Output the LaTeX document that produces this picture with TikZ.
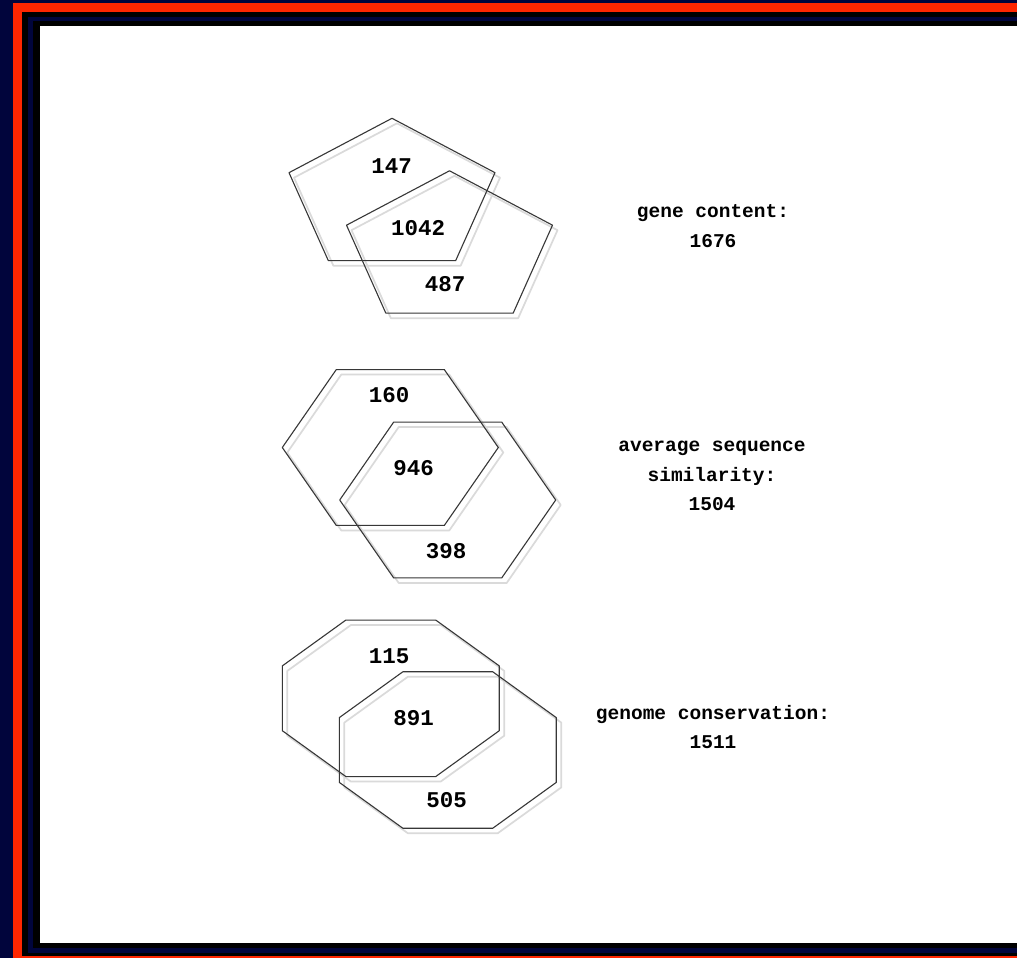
\documentclass[tikz,border=0pt]{standalone}
\usepackage{fontspec}
\usepackage{tikz}
\usetikzlibrary{calc,positioning}
\newfontfamily\typefont{Liberation Mono}
\definecolor{slatenavy}{RGB}{1,5,60}
\definecolor{framered}{RGB}{255,38,0}
\definecolor{outlinegray}{RGB}{55,55,55}
\definecolor{shadowgray}{RGB}{218,218,218}

% one set of a two-set diagram: a polygon stretched onto an ellipse
% #1 centre, #2 sides, #3 first corner angle, #4/#5 radii, #6 style
\newcommand{\setpoly}[6]{%
  \pgfmathtruncatemacro{\lastk}{#2-1}%
  \draw[shift={(#1)}, #6] (#3:#4 and #5)
    \foreach \k in {1,...,\lastk} { -- ({#3+\k*360/#2}:#4 and #5) } -- cycle;}

\begin{document}
\begin{tikzpicture}
    [x=1pt, y=-1pt,
    outline/.style={draw=outlinegray, line width=1.1pt, line join=round},
    shadow/.style={draw=shadowgray, line width=1.7pt, line join=round, xshift=5pt, yshift=-5pt},
    count/.style={font=\typefont\bfseries\fontsize{22.5}{24}\selectfont, inner sep=0pt},
    caption/.style={font=\typefont\bfseries\fontsize{19.5}{29.5}\selectfont, align=center, inner sep=0pt}]
    \useasboundingbox (0,0) rectangle (1017,958);

    % slide frame
    \fill[slatenavy] (0,0) rectangle (1017,958);
    \fill[framered] (13,3) rectangle (1017,958);
    \fill[black] (22,12) rectangle (1017,956);
    \fill[slatenavy] (28,17) rectangle (1017,952.7);
    \fill[black] (33.3,21) rectangle (1017,947.7);
    \fill[white] (40,26) rectangle (1017,942.7);

    \coordinate (pentA) at (392,197);
    \coordinate (pentB) at ($(pentA)+(57.5,52.5)$);
    \coordinate (hexA) at (390.3,447.5);
    \coordinate (hexB) at ($(hexA)+(57.4,52.5)$);
    \coordinate (octA) at (390.8,698.3);
    \coordinate (octB) at ($(octA)+(57,51.7)$);

    % gene content
    \setpoly{pentA}{5}{-90}{108.3}{78.7}{shadow}
    \setpoly{pentB}{5}{-90}{108.3}{78.7}{shadow}
    \setpoly{pentA}{5}{-90}{108.3}{78.7}{outline}
    \setpoly{pentB}{5}{-90}{108.3}{78.7}{outline}
    \node[count] (pent-left) at (391.5,166) {147};
    \node[count] (pent-both) at (418,228) {1042};
    \node[count] (pent-right) at (445,284) {487};
    \node[caption] (pent-total) at (713,226) {gene content:\\1676};

    % average sequence similarity
    \setpoly{hexA}{6}{0}{108}{90}{shadow}
    \setpoly{hexB}{6}{0}{108}{90}{shadow}
    \setpoly{hexA}{6}{0}{108}{90}{outline}
    \setpoly{hexB}{6}{0}{108}{90}{outline}
    \node[count] (hex-left) at (389,395) {160};
    \node[count] (hex-both) at (413.5,468) {946};
    \node[count] (hex-right) at (446,551.5) {398};
    \node[caption] (hex-total) at (712,476) {average sequence\\similarity:\\1504};

    % genome conservation
    \setpoly{octA}{8}{22.5}{117.4}{84.7}{shadow}
    \setpoly{octB}{8}{22.5}{117.4}{84.7}{shadow}
    \setpoly{octA}{8}{22.5}{117.4}{84.7}{outline}
    \setpoly{octB}{8}{22.5}{117.4}{84.7}{outline}
    \node[count] (oct-left) at (389,656.5) {115};
    \node[count] (oct-both) at (413.5,718.5) {891};
    \node[count] (oct-right) at (446.5,800) {505};
    \node[caption] (oct-total) at (713,727) {genome conservation:\\1511};
\end{tikzpicture}
\end{document}
